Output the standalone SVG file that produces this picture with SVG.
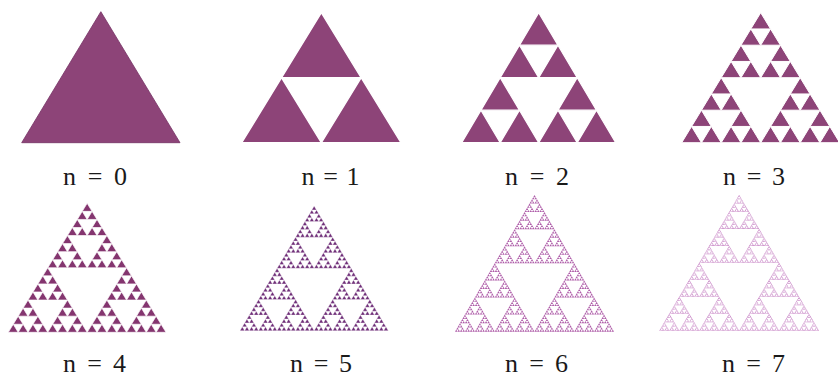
<svg xmlns="http://www.w3.org/2000/svg" xmlns:xlink="http://www.w3.org/1999/xlink" width="838" height="378" viewBox="0 0 838 378">
<style>
.lbl{font-family:"Liberation Serif","Times New Roman",serif;font-size:26px;fill:#1a1a1a;}
.leaf{vector-effect:non-scaling-stroke;stroke-linejoin:miter;}
</style>
<defs>
<polygon id="s0" class="leaf" points="0.5,0 1,1 0,1"/>
<g id="s1"><use href="#s0" transform="translate(.25,0) scale(.5)"/><use href="#s0" transform="translate(0,.5) scale(.5)"/><use href="#s0" transform="translate(.5,.5) scale(.5)"/></g>
<g id="s2"><use href="#s1" transform="translate(.25,0) scale(.5)"/><use href="#s1" transform="translate(0,.5) scale(.5)"/><use href="#s1" transform="translate(.5,.5) scale(.5)"/></g>
<g id="s3"><use href="#s2" transform="translate(.25,0) scale(.5)"/><use href="#s2" transform="translate(0,.5) scale(.5)"/><use href="#s2" transform="translate(.5,.5) scale(.5)"/></g>
<g id="s4"><use href="#s3" transform="translate(.25,0) scale(.5)"/><use href="#s3" transform="translate(0,.5) scale(.5)"/><use href="#s3" transform="translate(.5,.5) scale(.5)"/></g>
<g id="s5"><use href="#s4" transform="translate(.25,0) scale(.5)"/><use href="#s4" transform="translate(0,.5) scale(.5)"/><use href="#s4" transform="translate(.5,.5) scale(.5)"/></g>
<g id="s6"><use href="#s5" transform="translate(.25,0) scale(.5)"/><use href="#s5" transform="translate(0,.5) scale(.5)"/><use href="#s5" transform="translate(.5,.5) scale(.5)"/></g>
<g id="s7"><use href="#s6" transform="translate(.25,0) scale(.5)"/><use href="#s6" transform="translate(0,.5) scale(.5)"/><use href="#s6" transform="translate(.5,.5) scale(.5)"/></g>
</defs>
<rect width="838" height="378" fill="#ffffff"/>
<g id="n0">
<use href="#s0" transform="translate(21.7,11.7) scale(158.3,131)" fill="#8d4478" stroke="#742f62" stroke-width="0.8"/>
<text class="lbl" x="63" y="185" textLength="64" lengthAdjust="spacing">n = 0</text>
</g>
<g id="n1">
<use href="#s1" transform="translate(241.7,12.7) scale(159.3,130)" fill="#8d4478" stroke="#ffffff" stroke-width="1.4"/>
<text class="lbl" x="301.5" y="185" textLength="58" lengthAdjust="spacing">n = 1</text>
</g>
<g id="n2">
<use href="#s2" transform="translate(461.7,12.7) scale(154,130)" fill="#8d4478" stroke="#ffffff" stroke-width="1.2"/>
<text class="lbl" x="505" y="185" textLength="64" lengthAdjust="spacing">n = 2</text>
</g>
<g id="n3">
<use href="#s3" transform="translate(681.7,12.7) scale(158,130)" fill="#8d4478" stroke="#ffffff" stroke-width="1"/>
<text class="lbl" x="723" y="185" textLength="62" lengthAdjust="spacing">n = 3</text>
</g>
<g id="n4">
<use href="#s4" transform="translate(8.3,203.3) scale(157.7,129)" fill="#84356f" stroke="#ffffff" stroke-width="0.7"/>
<text class="lbl" x="63" y="372" textLength="63" lengthAdjust="spacing">n = 4</text>
</g>
<g id="n5">
<use href="#s5" transform="translate(240,206) scale(148.3,124.7)" fill="#6f2e78" stroke="#ffffff" stroke-width="0.35"/>
<text class="lbl" x="290" y="372" textLength="62" lengthAdjust="spacing">n = 5</text>
</g>
<g id="n6">
<use href="#s6" transform="translate(455,195) scale(159,136.7)" fill="#ae5ca8"/>
<text class="lbl" x="505" y="372" textLength="63" lengthAdjust="spacing">n = 6</text>
</g>
<g id="n7">
<use href="#s7" transform="translate(659.3,195) scale(159.7,135.7)" fill="#bf72bc"/>
<text class="lbl" x="722" y="372" textLength="63" lengthAdjust="spacing">n = 7</text>
</g>
<g id="connectors"></g>
</svg>
